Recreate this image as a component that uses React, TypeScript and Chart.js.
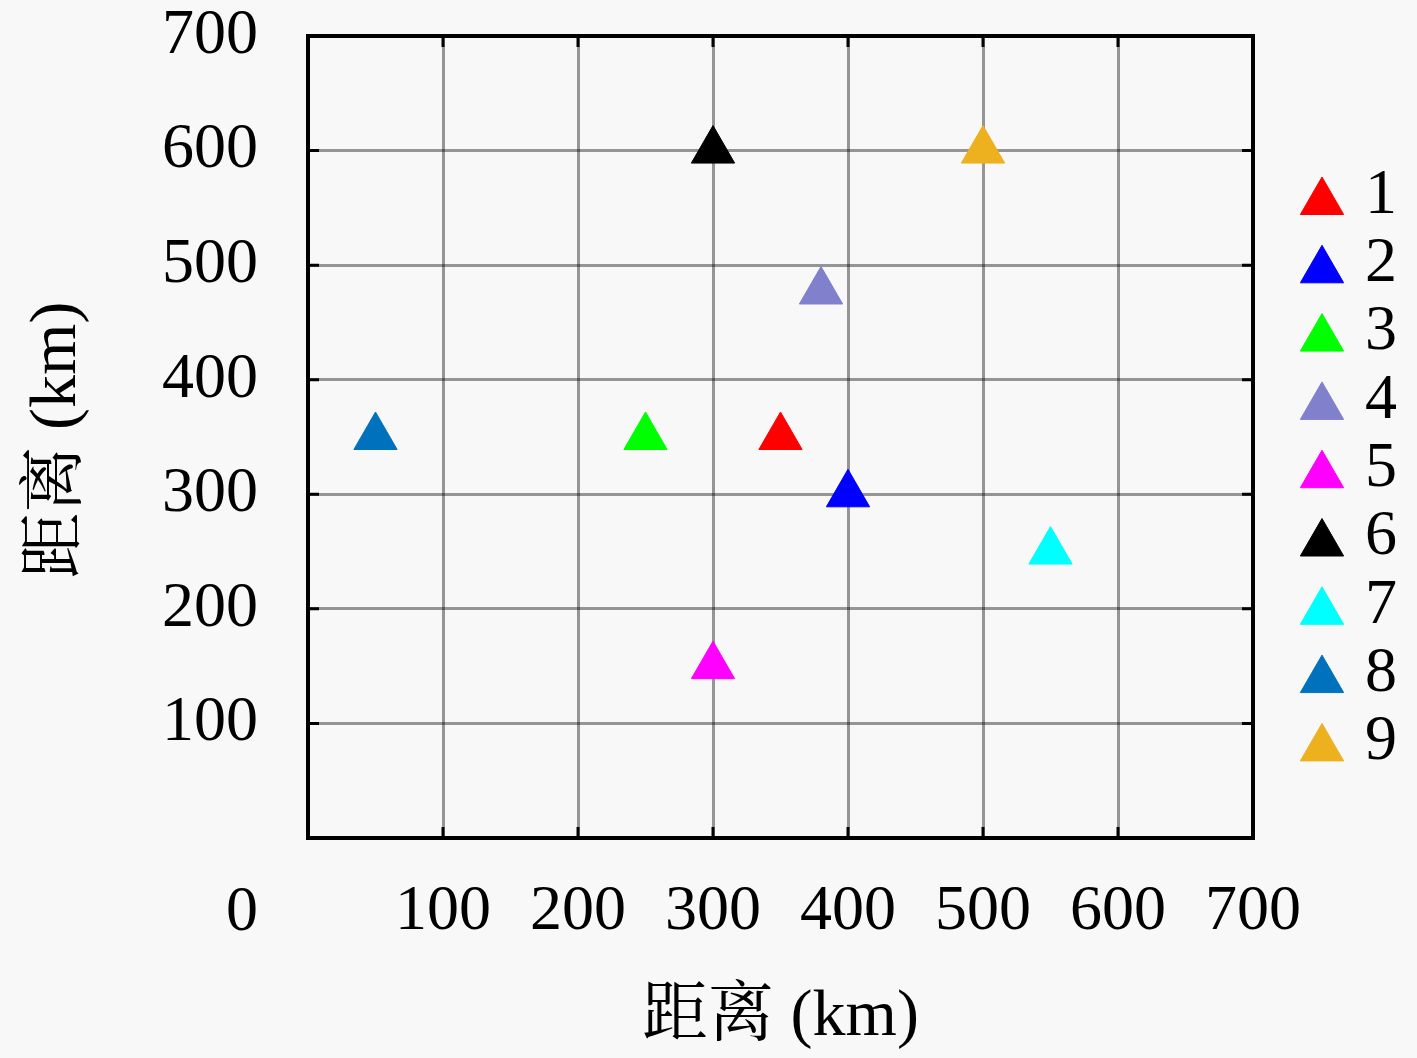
import React, { useEffect, useRef } from "react";
import { Chart, registerables } from "chart.js";
import { drawPoint } from "chart.js/helpers";

Chart.register(...registerables);

const seriesLabels = ["1", "2", "3", "4", "5", "6", "7", "8", "9"];
const xValues = [350, 400, 250, 380, 300, 300, 550, 50, 500];
const yValues = [350, 300, 350, 477, 150, 600, 250, 350, 600];
const seriesColors = [
  "#FF0000",
  "#0000FF",
  "#00FF00",
  "#8080CC",
  "#FF00FF",
  "#000000",
  "#00FFFF",
  "#0072BD",
  "#EDB120",
];
const axisMin = 0;
const axisMax = 700;
const axisStep = 100;
const xTitle = "距离 (km)";
const yTitle = "距离 (km)";
const originLabel = "0";

const FONT = "'Liberation Serif', 'Noto Sans CJK SC', serif";
const TITLE_FONT = "'Liberation Serif', 'Noto Serif CJK SC', 'Noto Sans CJK SC', serif";
const BG = "#f8f8f8";
const GRID = "rgba(0,0,0,0.4)";
const W = 1417;
const H = 1058;

const decorPlugin = {
  id: "decor",
  beforeDraw(chart: any) {
    const ctx = chart.ctx;
    ctx.save();
    ctx.fillStyle = BG;
    ctx.fillRect(0, 0, chart.width, chart.height);
    ctx.restore();
  },
  afterDraw(chart: any) {
    const ctx = chart.ctx;
    const { left, right, top, bottom } = chart.chartArea;
    const xs = chart.scales.x;
    const ys = chart.scales.y;
    ctx.save();
    // inward tick marks
    ctx.strokeStyle = "#000";
    ctx.lineWidth = 3;
    const tl = 11;
    for (let v = axisMin + axisStep; v < axisMax; v += axisStep) {
      const px = xs.getPixelForValue(v);
      const py = ys.getPixelForValue(v);
      ctx.beginPath();
      ctx.moveTo(px, bottom);
      ctx.lineTo(px, bottom - tl);
      ctx.moveTo(px, top);
      ctx.lineTo(px, top + tl);
      ctx.moveTo(left, py);
      ctx.lineTo(left + tl, py);
      ctx.moveTo(right, py);
      ctx.lineTo(right - tl, py);
      ctx.stroke();
    }
    // frame
    ctx.lineWidth = 4;
    ctx.strokeRect(left, top, right - left, bottom - top);

    // origin label
    ctx.fillStyle = "#000";
    ctx.font = `64px ${FONT}`;
    ctx.textAlign = "right";
    ctx.textBaseline = "middle";
    ctx.fillText(originLabel, left - 50, 913);

    // axis titles
    ctx.font = `66px ${TITLE_FONT}`;
    ctx.textAlign = "center";
    ctx.textBaseline = "middle";
    ctx.fillText(xTitle, (left + right) / 2 + 0, 1018);
    ctx.save();
    ctx.translate(58, 440);
    ctx.rotate(-Math.PI / 2);
    ctx.fillText(yTitle, 0, 0);
    ctx.restore();

    // legend
    const lx = 1322;
    const ly0 = 202;
    const step = 68.3;
    chart.data.datasets.forEach((ds: any, i: number) => {
      const cy = ly0 + i * step;
      ctx.fillStyle = ds.backgroundColor;
      ctx.strokeStyle = ds.borderColor;
      ctx.lineWidth = 1;
      drawPoint(ctx, { pointStyle: "triangle", radius: 25, borderWidth: 1, rotation: 0 } as any, lx, cy);
      ctx.fillStyle = "#000";
      ctx.font = `64px ${FONT}`;
      ctx.textAlign = "left";
      ctx.textBaseline = "middle";
      ctx.fillText(ds.label, 1365, cy - 6);
    });
    ctx.restore();
  },
};

export default function App() {
  const ref = useRef<HTMLCanvasElement>(null);
  useEffect(() => {
    document.body.style.margin = "0";
    const canvas = ref.current!;
    const chart = new Chart(canvas, {
      type: "scatter",
      data: {
        datasets: seriesLabels.map((lab, i) => ({
          label: lab,
          data: [{ x: xValues[i], y: yValues[i] }],
          backgroundColor: seriesColors[i],
          borderColor: seriesColors[i],
          borderWidth: 1,
          pointStyle: "triangle",
          pointRadius: 25,
          pointHoverRadius: 25,
        })),
      },
      options: {
        animation: false,
        responsive: false,
        devicePixelRatio: 1,
        events: [],
        layout: { padding: { top: 36, right: 164, left: 0, bottom: 0 } },
        plugins: {
          legend: { display: false },
          tooltip: { enabled: false },
        },
        scales: {
          x: {
            type: "linear",
            min: axisMin,
            max: axisMax,
            afterFit: (s: any) => {
              s.height = 220;
              s.paddingLeft = 0;
              s.paddingRight = 0;
            },
            grid: { color: GRID, lineWidth: 3, drawTicks: false },
            border: { display: false },
            ticks: {
              stepSize: axisStep,
              padding: 36,
              color: "#000",
              font: { family: FONT, size: 64 },
              maxRotation: 0,
              autoSkip: false,
              callback: (v: any) => (v === 0 ? "" : String(v)),
            },
          },
          y: {
            type: "linear",
            min: axisMin,
            max: axisMax,
            afterFit: (s: any) => {
              s.width = 308;
              s.paddingTop = 0;
              s.paddingBottom = 0;
            },
            grid: { color: GRID, lineWidth: 3, drawTicks: false },
            border: { display: false },
            ticks: {
              stepSize: axisStep,
              padding: 50,
              color: "#000",
              font: { family: FONT, size: 64 },
              autoSkip: false,
              callback: (v: any) => (v === 0 ? "" : String(v)),
            },
          },
        },
      },
      plugins: [decorPlugin],
    } as any);
    return () => chart.destroy();
  }, []);
  return <canvas ref={ref} width={W} height={H} style={{ display: "block", width: W, height: H }} />;
}
